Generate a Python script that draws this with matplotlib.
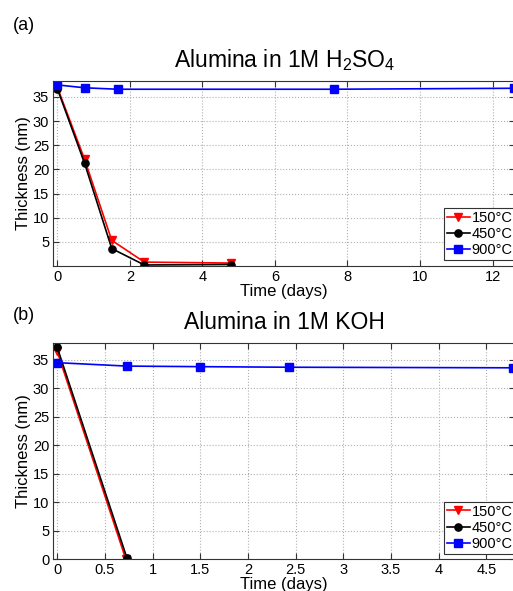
import matplotlib
matplotlib.use("Agg")
import matplotlib.pyplot as plt
from matplotlib.ticker import FormatStrFormatter

plt.rcParams['font.family'] = ['Liberation Sans', 'DejaVu Sans']
plt.rcParams['mathtext.fontset'] = 'custom'
plt.rcParams['mathtext.rm'] = 'Liberation Sans'

labels = ['150°C', '450°C', '900°C']
colors = ['red', 'black', 'blue']
markers = ['v', 'o', 's']

## (a) 1M H2SO4
t_acid = [[0, 0.75, 1.5, 2.4, 4.8],
          [0, 0.75, 1.5, 2.4, 4.8],
          [0, 0.75, 1.66, 7.62, 12.58]]
thk_acid = [[37.0, 22.1, 5.3, 0.8, 0.6],
            [36.7, 21.3, 3.6, 0.2, 0.3],
            [37.5, 36.9, 36.6, 36.6, 36.8]]

## (b) 1M KOH
t_base = [[0, 0.72],
          [0, 0.73],
          [0, 0.73, 1.5, 2.43, 4.78]]
thk_base = [[36.5, 0.0],
            [37.2, 0.3],
            [34.5, 33.9, 33.8, 33.7, 33.6]]

fig = plt.figure(figsize=(5.13, 5.91), dpi=100)
ax1 = fig.add_axes([0.104, 0.5504, 0.9, 0.3125])
ax2 = fig.add_axes([0.104, 0.0536, 0.9, 0.3665])


def draw(ax, tt, yy, title, xlim, ylim, xticks, yticks):
    for t, y, c, m, l in zip(tt, yy, colors, markers, labels):
        ax.plot(t, y, color=c, marker=m, markersize=5.2, linewidth=1.2,
                label=l)
    ax.set_xlim(xlim)
    ax.set_ylim(ylim)
    ax.set_xticks(xticks)
    ax.set_yticks(yticks)
    ax.xaxis.set_major_formatter(FormatStrFormatter('%g'))
    ax.grid(True, linestyle=':', color='#b0b0b0', linewidth=0.8)
    ax.tick_params(direction='in', top=True, right=True, labelsize=10.5,
                   length=4, color='#333333', pad=3)
    for s in ax.spines.values():
        s.set_color('#333333')
        s.set_linewidth(0.8)
    ax.set_title(title, fontsize=16.5, pad=10)
    ax.set_xlabel('Time (days)', fontsize=12, labelpad=0)
    ax.set_ylabel('Thickness (nm)', fontsize=12, labelpad=1)
    leg = ax.legend(loc='lower right', bbox_to_anchor=(1.01, 0.005),
                    fontsize=10.5, fancybox=False, edgecolor='#333333',
                    framealpha=1, borderpad=0.2, labelspacing=0.15,
                    handlelength=1.6, handletextpad=0.1, borderaxespad=0.3)
    leg.get_frame().set_linewidth(0.8)


draw(ax1, t_acid, thk_acid, 'Alumina in 1M H$_2$SO$_4$',
     (-0.11, 12.62), (0.05, 38.3), range(0, 13, 2), range(5, 36, 5))
draw(ax2, t_base, thk_base, 'Alumina in 1M KOH',
     (-0.04, 4.80), (0, 38.0), [0, 0.5, 1, 1.5, 2, 2.5, 3, 3.5, 4, 4.5],
     range(0, 36, 5))

fig.text(0.025, 0.957, '(a)', fontsize=13, va='center')
fig.text(0.025, 0.467, '(b)', fontsize=13, va='center')

plt.savefig('out.png', dpi=100)
plt.close()
